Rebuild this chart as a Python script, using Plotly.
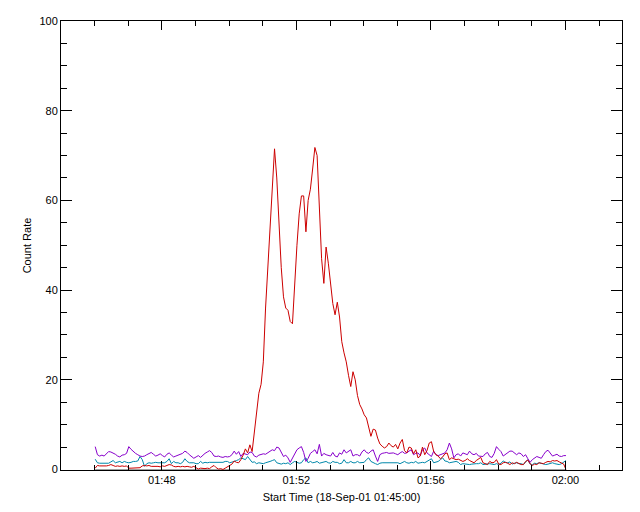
import plotly.graph_objects as go
import pandas as pd

# time grid: 4-second samples from 01:46:01 to 02:00:01
start_time = "2001-09-18 01:46:01"
n_points = 211
step_seconds = 4

red_values = [
    0.3, 0.9, 0.8, 0.8, 0.7, 0.8, 0.9, 1.1, 0.9, 0.7,
    0.8, 0.7, 0.8, 0.7, 0.8, 0.3, 0.3, 0.3, 0.3, 0.3,
    0.4, 0.8, 0.9, 0.8, 0.9, 0.7, 0.7, 0.8, 0.7, 0.6,
    0.8, 0.7, 0.9, 1.1, 1.0, 0.7, 0.6, 0.7, 0.6, 0.7,
    0.6, 0.7, 0.6, 0.5, 0.7, 0.4, 0.1, 0.3, 0.2, 0.2,
    0.3, 0.2, 0.6, 0.9, 0.4, 0.1, 0.2, 0.0, 0.3, 0.6,
    0.9, 1.2, 1.9, 1.6, 1.5, 2.2, 3.2, 4.6, 3.7, 5.5,
    4.0, 8.5, 13.5, 17.0, 19.0, 24.0, 36.0, 45.0, 52.0, 61.0,
    71.5, 65.0, 53.0, 45.0, 38.5, 36.0, 35.5, 33.0, 32.5, 42.0,
    50.0, 57.0, 61.0, 61.0, 53.0, 60.0, 62.5, 67.0, 71.8, 70.0,
    59.0, 47.0, 41.5, 49.6, 46.0, 41.5, 37.0, 34.5, 37.3, 34.0,
    28.5, 26.0, 24.0, 21.0, 18.5, 21.8, 20.0, 16.5, 14.5, 13.5,
    12.2, 11.5, 9.5, 7.4, 9.0, 8.8, 7.0, 5.7, 5.2, 4.8,
    5.1, 5.9, 5.3, 5.0, 5.6, 4.6, 5.9, 6.7, 4.2, 3.7,
    5.0, 4.8, 3.5, 4.4, 2.6, 3.0, 5.0, 3.3, 4.2, 5.9,
    6.2, 4.0, 3.3, 3.0, 2.4, 2.8, 3.5, 3.7, 2.2, 2.6,
    2.4, 2.2, 2.3, 2.0, 1.8, 2.0, 2.4, 2.0, 1.8, 1.5,
    2.0, 2.4, 2.7, 1.5, 1.3, 1.1, 1.8, 1.5, 1.6, 2.2,
    1.2, 1.1, 1.5, 1.6, 1.4, 1.1, 1.5, 1.3, 1.6, 1.3,
    1.1, 1.1, 1.8, 2.1, 1.3, 0.9, 1.2, 1.1, 1.5, 1.4,
    1.3, 1.6, 1.8, 1.7, 2.0, 1.9, 2.0, 1.7, 1.5, 1.2,
    0.0,
]

purple_values = [
    5.1, 3.3, 3.0, 3.2, 3.0, 3.5, 4.0, 3.9, 3.7, 3.4,
    3.0, 2.8, 3.2, 3.3, 3.6, 5.1, 4.5, 4.0, 3.6, 3.3,
    3.0, 2.9, 3.0, 3.3, 3.6, 3.8, 3.4, 3.0, 3.2, 3.5,
    3.1, 2.8, 3.4, 3.7, 3.2, 2.8, 3.0, 3.2, 3.3, 3.6,
    4.1, 3.8, 3.3, 2.9, 2.5, 2.8, 3.1, 2.7, 3.2, 3.6,
    3.9, 4.2, 3.8, 3.0, 2.9, 3.0, 2.8, 2.7, 2.9, 2.8,
    2.9, 3.3, 4.1, 3.4, 4.0, 2.9, 3.6, 3.4, 3.3, 3.9,
    3.8, 3.0, 2.8, 3.2, 3.4, 3.5, 3.4, 3.7, 4.0, 4.4,
    4.2, 5.0, 4.8, 3.7, 2.9, 3.2, 2.6, 1.6, 2.6, 3.4,
    4.4, 4.8, 5.1, 3.8, 1.8, 2.5, 3.6, 4.0, 4.4, 3.5,
    5.6, 3.0, 3.6, 3.3, 3.1, 3.0, 3.8, 3.0, 2.8, 3.7,
    3.4, 4.4, 3.7, 4.0, 4.4, 3.0, 3.3, 3.3, 3.0, 3.9,
    4.4, 3.8, 3.6, 4.1, 4.4, 3.0, 1.8, 3.3, 3.6, 3.7,
    3.8, 3.6, 3.7, 3.7, 3.5, 3.3, 3.7, 4.0, 3.6, 3.7,
    4.1, 4.4, 3.3, 3.6, 3.7, 3.1, 4.4, 4.8, 3.7, 3.3,
    2.9, 4.1, 3.3, 3.1, 3.3, 3.4, 3.7, 4.4, 5.9, 4.6,
    2.6, 3.3, 3.5, 3.0, 3.7, 3.5, 3.3, 4.1, 3.5, 3.3,
    3.6, 3.0, 2.9, 2.9, 3.5, 3.8, 2.9, 2.7, 3.6, 5.1,
    4.5, 4.0, 3.0, 3.4, 3.6, 4.1, 4.1, 3.6, 3.3, 3.7,
    3.5, 2.9, 3.3, 2.4, 1.6, 2.2, 2.6, 2.9, 2.7, 2.5,
    3.3, 4.0, 4.3, 3.6, 3.0, 3.2, 3.4, 3.0, 2.9, 3.1,
    3.1,
]

cyan_values = [
    2.3, 1.5, 1.4, 1.4, 1.5, 1.5, 1.4, 1.7, 2.0, 1.5,
    1.6, 1.8, 1.5, 1.8, 1.6, 1.5, 1.6, 1.8, 1.8, 1.9,
    2.9, 2.2, 0.7, 1.3, 1.5, 1.4, 1.5, 1.6, 1.5, 1.5,
    1.6, 1.5, 1.8, 2.4, 1.3, 1.8, 1.5, 1.5, 1.3, 1.6,
    2.4, 1.8, 1.5, 1.5, 1.5, 1.3, 1.3, 1.8, 1.4, 1.6,
    1.5, 1.6, 1.6, 1.5, 1.6, 1.6, 1.6, 1.6, 1.8, 1.8,
    1.5, 1.6, 1.8, 2.0, 2.2, 2.6, 2.4, 2.2, 2.9, 2.2,
    1.6, 1.7, 1.3, 1.5, 1.4, 1.3, 1.5, 1.6, 1.8, 2.0,
    2.2, 1.5, 1.4, 1.2, 1.4, 1.3, 1.5, 1.1, 1.5, 1.8,
    1.6, 1.4, 1.5, 2.2, 2.6, 1.5, 1.8, 1.5, 1.6, 1.8,
    1.4, 1.5, 1.6, 1.8, 1.5, 1.4, 1.8, 1.6, 1.6, 1.3,
    1.4, 2.2, 1.5, 1.5, 1.8, 1.5, 1.5, 1.8, 1.5, 1.6,
    1.6, 2.2, 2.6, 1.8, 1.5, 1.3, 1.1, 1.4, 1.5, 1.5,
    1.6, 1.5, 1.5, 1.6, 1.5, 1.5, 1.3, 1.6, 1.8, 1.5,
    1.4, 1.6, 1.5, 1.8, 1.4, 1.5, 1.6, 1.5, 1.8, 2.2,
    2.4, 1.5, 1.6, 1.8, 2.2, 2.6, 1.9, 1.8, 1.5, 1.6,
    1.6, 1.8, 1.6, 1.1, 1.3, 1.2, 1.1, 1.1, 1.2, 1.3,
    1.3, 1.3, 1.5, 1.1, 1.2, 1.3, 1.3, 1.2, 1.1, 1.3,
    1.1, 1.4, 1.9, 1.6, 1.5, 1.7, 1.2, 1.4, 1.5, 1.3,
    1.3, 1.1, 1.6, 2.2, 1.2, 1.1, 1.4, 1.3, 1.5, 1.4,
    1.3, 1.1, 1.2, 1.3, 1.5, 1.3, 1.2, 1.1, 1.3, 1.6,
    2.0,
]

zero_values = [0.0] * n_points

x_tick_labels = ["01:48", "01:52", "01:56", "02:00"]
x_title = "Start Time (18-Sep-01 01:45:00)"
y_title = "Count Rate"

times = pd.date_range(start=start_time, periods=n_points, freq=f"{step_seconds}s")

fig = go.Figure()
fig.add_trace(go.Scatter(x=times, y=zero_values, mode="lines",
                         line=dict(color="#a0a0a0", width=1), hoverinfo="skip"))
fig.add_trace(go.Scatter(x=times, y=cyan_values, mode="lines",
                         line=dict(color="#0088aa", width=1)))
fig.add_trace(go.Scatter(x=times, y=purple_values, mode="lines",
                         line=dict(color="#8800cc", width=1)))
fig.add_trace(go.Scatter(x=times, y=red_values, mode="lines",
                         line=dict(color="#cc0000", width=1)))

font = dict(family="Liberation Sans, Arial, sans-serif", size=11, color="black")

fig.update_layout(
    width=624, height=496,
    margin=dict(l=53, r=10, t=13, b=34),
    paper_bgcolor="white", plot_bgcolor="white",
    showlegend=False,
    font=font,
    xaxis=dict(
        range=["2001-09-18 01:45:00", "2001-09-18 02:01:41"],
        tickvals=[f"2001-09-18 {t}:00" for t in x_tick_labels],
        ticktext=x_tick_labels,
        ticks="inside", ticklen=9, tickcolor="black", tickwidth=1,
        minor=dict(ticks="inside", ticklen=5, dtick=60000,
                   tick0="2001-09-18 01:45:00", tickcolor="black", showgrid=False),
        showline=True, linecolor="black", linewidth=1, mirror="allticks",
        showgrid=False, zeroline=False, automargin=False,
        title=dict(text=x_title, font=font, standoff=8),
        tickfont=font,
    ),
    yaxis=dict(
        range=[-0.11, 100],
        tickvals=[0, 20, 40, 60, 80, 100],
        ticks="inside", ticklen=11, tickcolor="black", tickwidth=1,
        minor=dict(ticks="inside", ticklen=6, dtick=5, tick0=0,
                   tickcolor="black", showgrid=False),
        showline=True, linecolor="black", linewidth=1, mirror="allticks",
        showgrid=False, zeroline=False, automargin=False,
        title=dict(text=y_title, font=font, standoff=5),
        tickfont=font,
    ),
)

fig.write_html("out.html")
